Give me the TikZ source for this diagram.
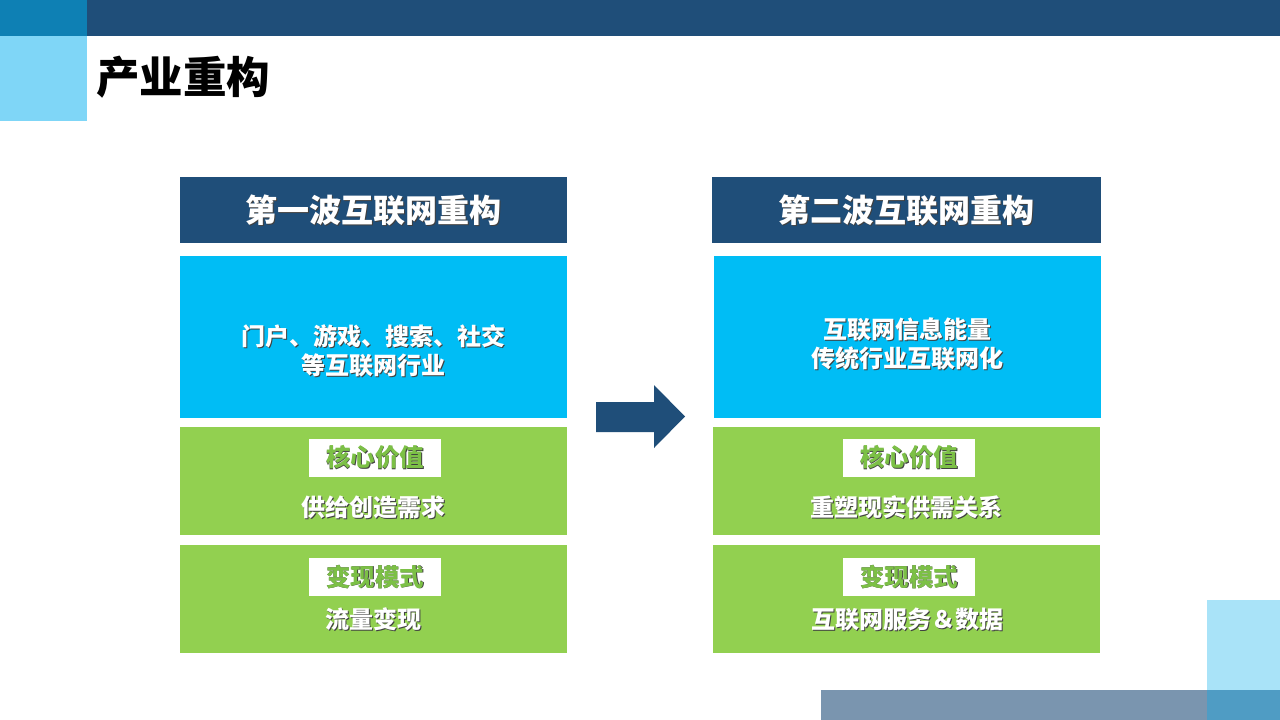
\documentclass[tikz,border=0pt]{standalone}
\usepackage{fontspec}
\newfontfamily\cjk{Noto Sans CJK SC}
\definecolor{navy}{HTML}{1F4E79}
\definecolor{topsq}{HTML}{0E80B4}
\definecolor{ltblue}{HTML}{7FD6F7}
\definecolor{paleblue}{HTML}{A9E3F8}
\definecolor{greyblue}{HTML}{7A95AF}
\definecolor{mixblue}{HTML}{4F9CC4}
\definecolor{skyblue}{HTML}{00BDF5}
\definecolor{leaf}{HTML}{92D050}
\definecolor{lbltext}{HTML}{7CC046}
\newcommand{\shd}[1]{\rlap{\kern0.9pt\raisebox{-0.9pt}{\textcolor{black!75}{#1}}}#1}
\tikzset{
  panel/.style={inner sep=0pt, outer sep=0pt, draw=none},
  headbox/.style={panel, fill=navy, minimum height=66pt},
  bluebox/.style={panel, fill=skyblue, minimum height=162pt},
  greenbox/.style={panel, fill=leaf, minimum height=108pt},
  lblbox/.style={panel, fill=white, minimum width=132pt, minimum height=38pt},
  headtxt/.style={inner sep=0pt, text=white, font=\cjk\bfseries\fontsize{32}{38}\selectfont},
  bodytxt/.style={inner sep=0pt, text=white, align=center, font=\cjk\bfseries\fontsize{24}{29}\selectfont},
  lbltxt/.style={inner sep=0pt, text=lbltext, font=\cjk\bfseries\fontsize{24.5}{29}\selectfont},
}
\begin{document}
\begin{tikzpicture}[x=1pt,y=-1pt]
\useasboundingbox (0,0) rectangle (1280,720);
\fill[white] (0,0) rectangle (1280,720);
% decorations
\fill[navy] (87,0) rectangle (1280,36);
\fill[topsq] (0,0) rectangle (87,36);
\fill[ltblue] (0,36) rectangle (87,121);
\fill[paleblue] (1207,600) rectangle (1280,690);
\fill[greyblue] (821,690) rectangle (1207,720);
\fill[mixblue] (1207,690) rectangle (1280,720);
% title
\node[inner sep=0pt, anchor=west, font=\cjk\bfseries\fontsize{43.5}{50}\selectfont] (title) at (96,77) {产业重构};
% left column
\node[headbox, minimum width=387pt] (h1) at (373.5,210) {};
\node[headtxt] (h1t) at (373.5,211) {\shd{第一波互联网重构}};
\node[bluebox, minimum width=387pt] (b1) at (373.5,337) {};
\node[bodytxt] (b1t) at (373.5,351) {\shd{门户、游戏、搜索、社交}\\\shd{等互联网行业}};
\node[greenbox, minimum width=387pt] (g1) at (373.5,481) {};
\node[lblbox] (l1) at (375,458) {};
\node[lbltxt] (l1t) at (375,458) {\shd{核心价值}};
\node[bodytxt] (g1t) at (373.5,508) {\shd{供给创造需求}};
\node[greenbox, minimum width=387pt] (g2) at (373.5,599) {};
\node[lblbox] (l2) at (375,577) {};
\node[lbltxt] (l2t) at (375,577) {\shd{变现模式}};
\node[bodytxt] (g2t) at (373.5,620) {\shd{流量变现}};
% right column
\node[headbox, minimum width=389pt] (h2) at (906.5,210) {};
\node[headtxt] (h2t) at (906.5,211) {\shd{第二波互联网重构}};
\node[bluebox, minimum width=387pt] (b2) at (907.5,337) {};
\node[bodytxt] (b2t) at (907.5,344) {\shd{互联网信息能量}\\\shd{传统行业互联网化}};
\node[greenbox, minimum width=387pt] (g3) at (906.5,481) {};
\node[lblbox] (l3) at (909,458) {};
\node[lbltxt] (l3t) at (909,458) {\shd{核心价值}};
\node[bodytxt] (g3t) at (906.5,508) {\shd{重塑现实供需关系}};
\node[greenbox, minimum width=387pt] (g4) at (906.5,599) {};
\node[lblbox] (l4) at (909,577) {};
\node[lbltxt] (l4t) at (909,577) {\shd{变现模式}};
\node[bodytxt] (g4t) at (907.5,620) {\shd{互联网服务＆数据}};
% arrow between columns
\fill[navy] (596,402) -- (654,402) -- (654,385) -- (685,416.5) -- (654,448) -- (654,432) -- (596,432) -- cycle;
\end{tikzpicture}
\end{document}
